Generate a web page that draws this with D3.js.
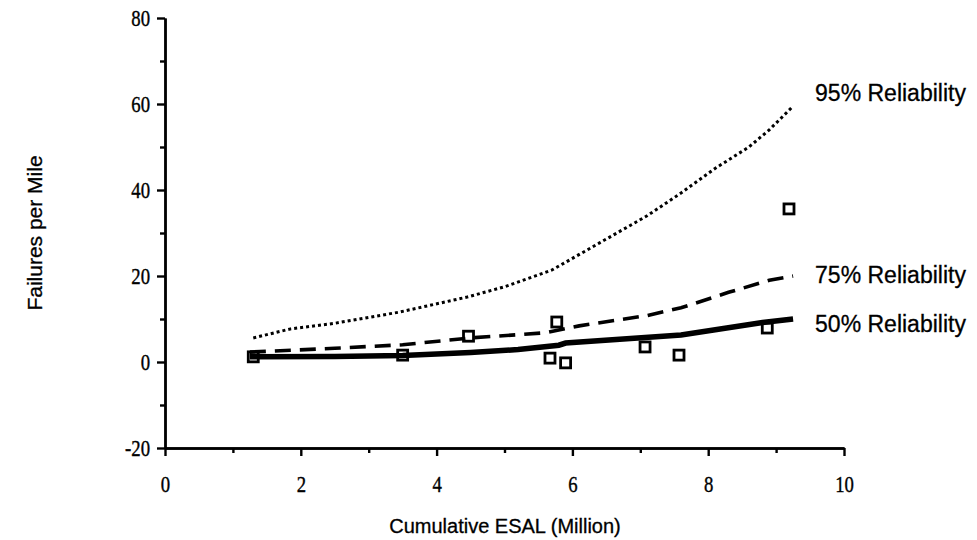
<!DOCTYPE html>
<html>
<head>
<meta charset="utf-8">
<script src="https://cdn.jsdelivr.net/npm/d3@7"></script>
<style>
  body { margin: 0; background: #fff; }
  svg { display: block; }
</style>
</head>
<body>
<svg></svg>
<script>
// curves (x = million ESAL, y = failures per mile)
const rel95X = [1.3, 1.85, 2.5, 3.45, 4.45, 5.0, 5.7, 6.4, 7.1, 7.6, 8.1, 8.6, 8.9, 9.25];
const rel95Y = [5.6, 7.7, 9.0, 11.6, 15.1, 17.5, 21.4, 27.7, 34.0, 39.3, 45.0, 50.0, 54.0, 59.5];

const rel75X = [1.25, 2.5, 3.5, 4.5, 5.6, 6.1, 7.1, 7.6, 8.3, 8.9, 9.25];
const rel75Y = [2.3, 3.2, 4.0, 5.6, 6.8, 8.4, 10.8, 12.6, 16.2, 19.0, 20.0];

const rel50X = [1.25, 2.5, 3.5, 4.5, 5.2, 5.8, 5.9, 7.6, 8.8, 9.25];
const rel50Y = [1.2, 1.3, 1.5, 2.2, 2.9, 3.9, 4.4, 6.3, 9.2, 10.0];

// observed sections
const obsX = [1.3, 3.5, 4.47, 5.67, 5.77, 5.9, 7.07, 7.57, 8.87, 9.19];
const obsY = [1.2, 1.6, 6.0, 0.9, 9.3, -0.2, 3.5, 1.6, 7.9, 35.6];

const seriesLabels = ['95% Reliability', '75% Reliability', '50% Reliability'];

const xMajor = [0, 2, 4, 6, 8, 10];
const xMinor = [1, 3, 5, 7, 9];
const yMajor = [-20, 0, 20, 40, 60, 80];
const yMinor = [-10, 10, 30, 50, 70];

const width = 977;
const height = 540;

const svg = d3.select('svg')
  .attr('width', width)
  .attr('height', height);

const xScale = d3.scaleLinear().domain([0, 10]).range([165, 844]);
const yScale = d3.scaleLinear().domain([-20, 80]).range([448, 18]);

// condensed serif tick numbers like the scan
const squeeze = sel => sel.selectAll('text')
  .attr('font-family', '"Liberation Serif", "Times New Roman", serif')
  .attr('font-size', 24)
  .attr('fill', '#000')
  .attr('stroke', '#000')
  .attr('stroke-width', 0.4)
  .each(function () {
    const w = this.getComputedTextLength();
    d3.select(this).attr('textLength', w * 0.78).attr('lengthAdjust', 'spacingAndGlyphs');
  });

const styleAxis = g => {
  g.select('.domain').attr('stroke', '#000').attr('stroke-width', 2.4);
  g.selectAll('.tick line').attr('stroke', '#000').attr('stroke-width', 2.4);
};

// axes
const xAxis = svg.append('g')
  .attr('transform', `translate(0, ${yScale(-20)})`)
  .call(d3.axisBottom(xScale).tickValues(xMajor).tickSize(8).tickSizeOuter(0).tickPadding(19).tickFormat(d => String(d)));
styleAxis(xAxis);
squeeze(xAxis);

svg.append('g')
  .attr('transform', `translate(0, ${yScale(-20)})`)
  .call(d3.axisBottom(xScale).tickValues(xMinor).tickSize(5).tickSizeOuter(0).tickFormat(''))
  .call(styleAxis);

const yAxis = svg.append('g')
  .attr('transform', `translate(${xScale(0)}, 0)`)
  .call(d3.axisLeft(yScale).tickValues(yMajor).tickSize(8).tickSizeOuter(0).tickPadding(7).tickFormat(d => String(d)));
styleAxis(yAxis);
squeeze(yAxis);

svg.append('g')
  .attr('transform', `translate(${xScale(0)}, 0)`)
  .call(d3.axisLeft(yScale).tickValues(yMinor).tickSize(5).tickSizeOuter(0).tickFormat(''))
  .call(styleAxis);

// axis titles
svg.append('text')
  .text('Cumulative ESAL (Million)')
  .attr('x', 505)
  .attr('y', 533)
  .attr('text-anchor', 'middle')
  .attr('font-family', '"Liberation Sans", Arial, sans-serif')
  .attr('font-size', 20)
  .attr('stroke', '#000')
  .attr('stroke-width', 0.3);

svg.append('text')
  .text('Failures per Mile')
  .attr('transform', 'translate(42, 233) rotate(-90)')
  .attr('text-anchor', 'middle')
  .attr('font-family', '"Liberation Sans", Arial, sans-serif')
  .attr('font-size', 21)
  .attr('stroke', '#000')
  .attr('stroke-width', 0.3);

// reliability curves
const line = d3.line()
  .x(d => xScale(d[0]))
  .y(d => yScale(d[1]));

const curves = [
  { xs: rel95X, ys: rel95Y, width: 3, dash: '3,3' },
  { xs: rel75X, ys: rel75Y, width: 3.6, dash: '16,9' },
  { xs: rel50X, ys: rel50Y, width: 5.5, dash: null }
];

curves.forEach(c => {
  svg.append('path')
    .datum(c.xs.map((x, i) => [x, c.ys[i]]))
    .attr('d', line)
    .attr('fill', 'none')
    .attr('stroke', '#000')
    .attr('stroke-width', c.width)
    .attr('stroke-dasharray', c.dash);
});

// observed points: open squares
const pts = obsX.map((x, i) => [x, obsY[i]]);
svg.selectAll('rect.obs')
  .data(pts)
  .enter()
  .append('rect')
  .attr('class', 'obs')
  .attr('x', d => xScale(d[0]) - 5)
  .attr('y', d => yScale(d[1]) - 5)
  .attr('width', 10)
  .attr('height', 10)
  .attr('fill', 'none')
  .attr('stroke', '#000')
  .attr('stroke-width', 2.8);

// curve labels
const labelY = [101, 283, 332];
svg.selectAll('text.rel')
  .data(seriesLabels)
  .enter()
  .append('text')
  .attr('class', 'rel')
  .text(d => d)
  .attr('x', xScale(9.25) + 22)
  .attr('y', (d, i) => labelY[i])
  .attr('font-family', '"Liberation Sans", Arial, sans-serif')
  .attr('font-size', 23)
  .attr('stroke', '#000')
  .attr('stroke-width', 0.3);
</script>
</body>
</html>
